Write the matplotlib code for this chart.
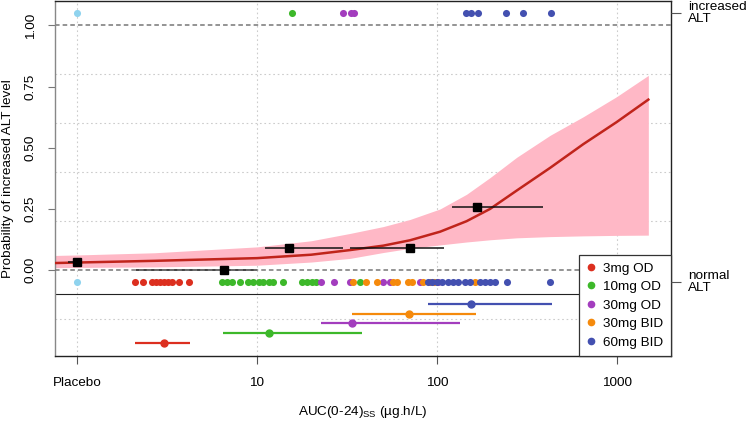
import numpy as np
import matplotlib
matplotlib.use('Agg')
import matplotlib.pyplot as plt
from matplotlib.lines import Line2D

plt.rcParams['font.family'] = ['Liberation Sans', 'DejaVu Sans']
plt.rcParams['mathtext.fontset'] = 'custom'
plt.rcParams['mathtext.rm'] = 'Liberation Sans'

# --- datos ---
groups = ['3mg OD', '10mg OD', '30mg OD', '30mg BID', '60mg BID']
colors = ['#DC2F1F', '#3DB82A', '#A33DBE', '#F58A0C', '#4350B0']
placebo_color = '#8FD3EE'

# AUC individuales con ALT normal (franja inferior)
normal_auc = {
    '3mg OD': [2.11, 2.33, 2.61, 2.74, 2.89, 3.04, 3.19, 3.36, 3.69, 4.19],
    '10mg OD': [6.37, 6.79, 7.23, 8.05, 8.95, 9.54, 10.2, 10.8, 11.6, 12.3,
                13.9, 17.7, 18.9, 20.1, 21.3, 37.3],
    '30mg OD': [22.7, 26.8, 32.9, 50.1, 54.8, 80.5, 101],
    '30mg BID': [34.1, 40.3, 46.4, 57.0, 59.9, 69.0, 72.7, 83.6, 91.4, 96.2, 163],
    '60mg BID': [89.1, 93.8, 100, 106.6, 115, 122.6, 130.9, 143, 152.5, 173,
                 184.8, 197, 210, 245, 424],
}
# AUC individuales con ALT aumentada (franja superior)
increased_auc = {
    '3mg OD': [],
    '10mg OD': [15.6],
    '30mg OD': [30.0, 33.3, 34.6],
    '30mg BID': [],
    '60mg BID': [145, 154.6, 169, 241, 300, 430],
}
placebo_x = 1.0

# mediana e intervalo de AUC por dosis
grp_med = [3.04, 11.7, 33.7, 69.9, 154]
grp_lo = [2.10, 6.47, 22.7, 33.7, 89]
grp_hi = [4.24, 38.3, 134, 165, 435]

# proporciones observadas por intervalo de AUC (incluye placebo)
bin_mid = [1.0, 6.55, 15.1, 70.8, 167]
bin_lo = [0.89, 2.13, 11.1, 32.8, 121]
bin_hi = [1.05, 10.0, 30.0, 109, 388]
bin_p = [0.033, 0.0, 0.09, 0.09, 0.26]

# curva logistica ajustada y banda de confianza
fit_auc = [0.755, 1, 2.7, 10, 20, 32.9, 50.3, 70.8, 104, 146, 197, 277, 425, 650, 995, 1493]
fit_p = [0.029, 0.031, 0.038, 0.049, 0.063, 0.082, 0.100, 0.122, 0.157, 0.200,
         0.250, 0.325, 0.418, 0.515, 0.605, 0.697]
fit_lo = [0.010, 0.011, 0.013, 0.020, 0.033, 0.048, 0.072, 0.089, 0.103, 0.115,
          0.124, 0.132, 0.137, 0.140, 0.142, 0.143]
fit_hi = [0.060, 0.062, 0.071, 0.095, 0.120, 0.150, 0.178, 0.207, 0.250, 0.310,
          0.378, 0.461, 0.551, 0.627, 0.709, 0.796]

# ==========================================
fig = plt.figure(figsize=(7.47, 4.21), dpi=100)
ax = fig.add_axes([55 / 747, 65 / 421, 616 / 747, 355 / 421])
ax.set_xscale('log')
ax.set_xlim(0.755, 1995)
ax.set_ylim(-0.351, 1.10)

# rejilla punteada
for gx in [1, 10, 100, 1000]:
    ax.axvline(gx, color='#CCCCCC', lw=0.8, ls=(0, (1.5, 2.5)), zorder=0)
for gy in [-0.2, 0.2, 0.4, 0.6, 0.8]:
    ax.axhline(gy, color='#CCCCCC', lw=0.8, ls=(0, (1.5, 2.5)), zorder=0)

# banda y curva
ax.fill_between(fit_auc, fit_lo, fit_hi, color='#FFB8C6', lw=0, zorder=1)
ax.plot(fit_auc, fit_p, color='#C0241B', lw=1.8, zorder=3)

# proporciones observadas
ax.hlines(bin_p, bin_lo, bin_hi, color='#111111', lw=1.1, zorder=4)
ax.plot(bin_mid, bin_p, 's', color='black', ms=5.5, zorder=5)

# lineas de referencia
ax.axhline(1.0, color='#777777', lw=1.1, ls=(0, (3, 2)), zorder=2)
ax.axhline(0.0, color='#777777', lw=1.1, ls=(0, (3, 2)), zorder=4.5)
ax.axhline(-0.098, color='#222222', lw=0.8, zorder=2)

# puntos individuales
ax.scatter([placebo_x], [1.05], s=26, color=placebo_color, lw=0, zorder=6)
ax.scatter([placebo_x], [-0.05], s=26, color=placebo_color, lw=0, zorder=6)
for g, c in zip(groups, colors):
    xs = normal_auc[g]
    ax.scatter(xs, [-0.05] * len(xs), s=26, color=c, lw=0, zorder=6)
    xi = increased_auc[g]
    if xi:
        ax.scatter(xi, [1.05] * len(xi), s=26, color=c, lw=0, zorder=6)

# resumen por dosis (panel inferior)
for i, c in enumerate(colors):
    yy = -0.298 + 0.04 * i
    ax.hlines(yy, grp_lo[i], grp_hi[i], color=c, lw=1.6, zorder=6)
    ax.plot(grp_med[i], yy, 'o', color=c, ms=5, zorder=7)

# ejes
ax.set_xticks([1, 10, 100, 1000])
ax.set_xticklabels(['Placebo', '10', '100', '1000'], fontsize=9.7)
ax.xaxis.set_minor_locator(matplotlib.ticker.NullLocator())
ax.set_yticks([0, 0.25, 0.5, 0.75, 1.0])
ax.set_yticklabels(['0.00', '0.25', '0.50', '0.75', '1.00'], fontsize=9.7,
                   rotation=90, va='center')
ax.tick_params(axis='x', length=6, color='#555555', pad=9)
ax.tick_params(axis='y', length=5, color='#777777', pad=8)
ax.set_xlabel('AUC(0-24)$_{\\mathrm{SS}}$ (\u00b5g.h/L)', fontsize=9.7, labelpad=11)
ax.set_ylabel('Probability of increased ALT level', fontsize=9.7)
ax.yaxis.set_label_coords(-0.067, 0.5)
ax.spines['left'].set_color('#888888')
for s in ['top', 'right', 'bottom']:
    ax.spines[s].set_color('#222222')
for s in ax.spines.values():
    s.set_linewidth(1.0)

# eje derecho con etiquetas de estado
ax2 = ax.twinx()
ax2.set_ylim(ax.get_ylim())
ax2.set_yticks([1.05, -0.05])
ax2.set_yticklabels(['increased\nALT', 'normal\nALT'], fontsize=9.7,
                    va='center', ha='left', linespacing=1.0)
ax2.tick_params(axis='y', length=7, color='#555555', pad=5)
for s in ax2.spines.values():
    s.set_visible(False)

handles = [Line2D([], [], marker='o', ls='none', color=c, ms=4.5) for c in colors]
leg = ax.legend(handles, groups, loc='lower right', fontsize=9.7, borderaxespad=0,
                fancybox=False, edgecolor='#333333', framealpha=1,
                handlelength=0.8, handletextpad=0.5, labelspacing=0.45,
                borderpad=0.55)
leg.get_frame().set_linewidth(0.9)
leg.set_zorder(10)

fig.savefig('out.png', dpi=100)
